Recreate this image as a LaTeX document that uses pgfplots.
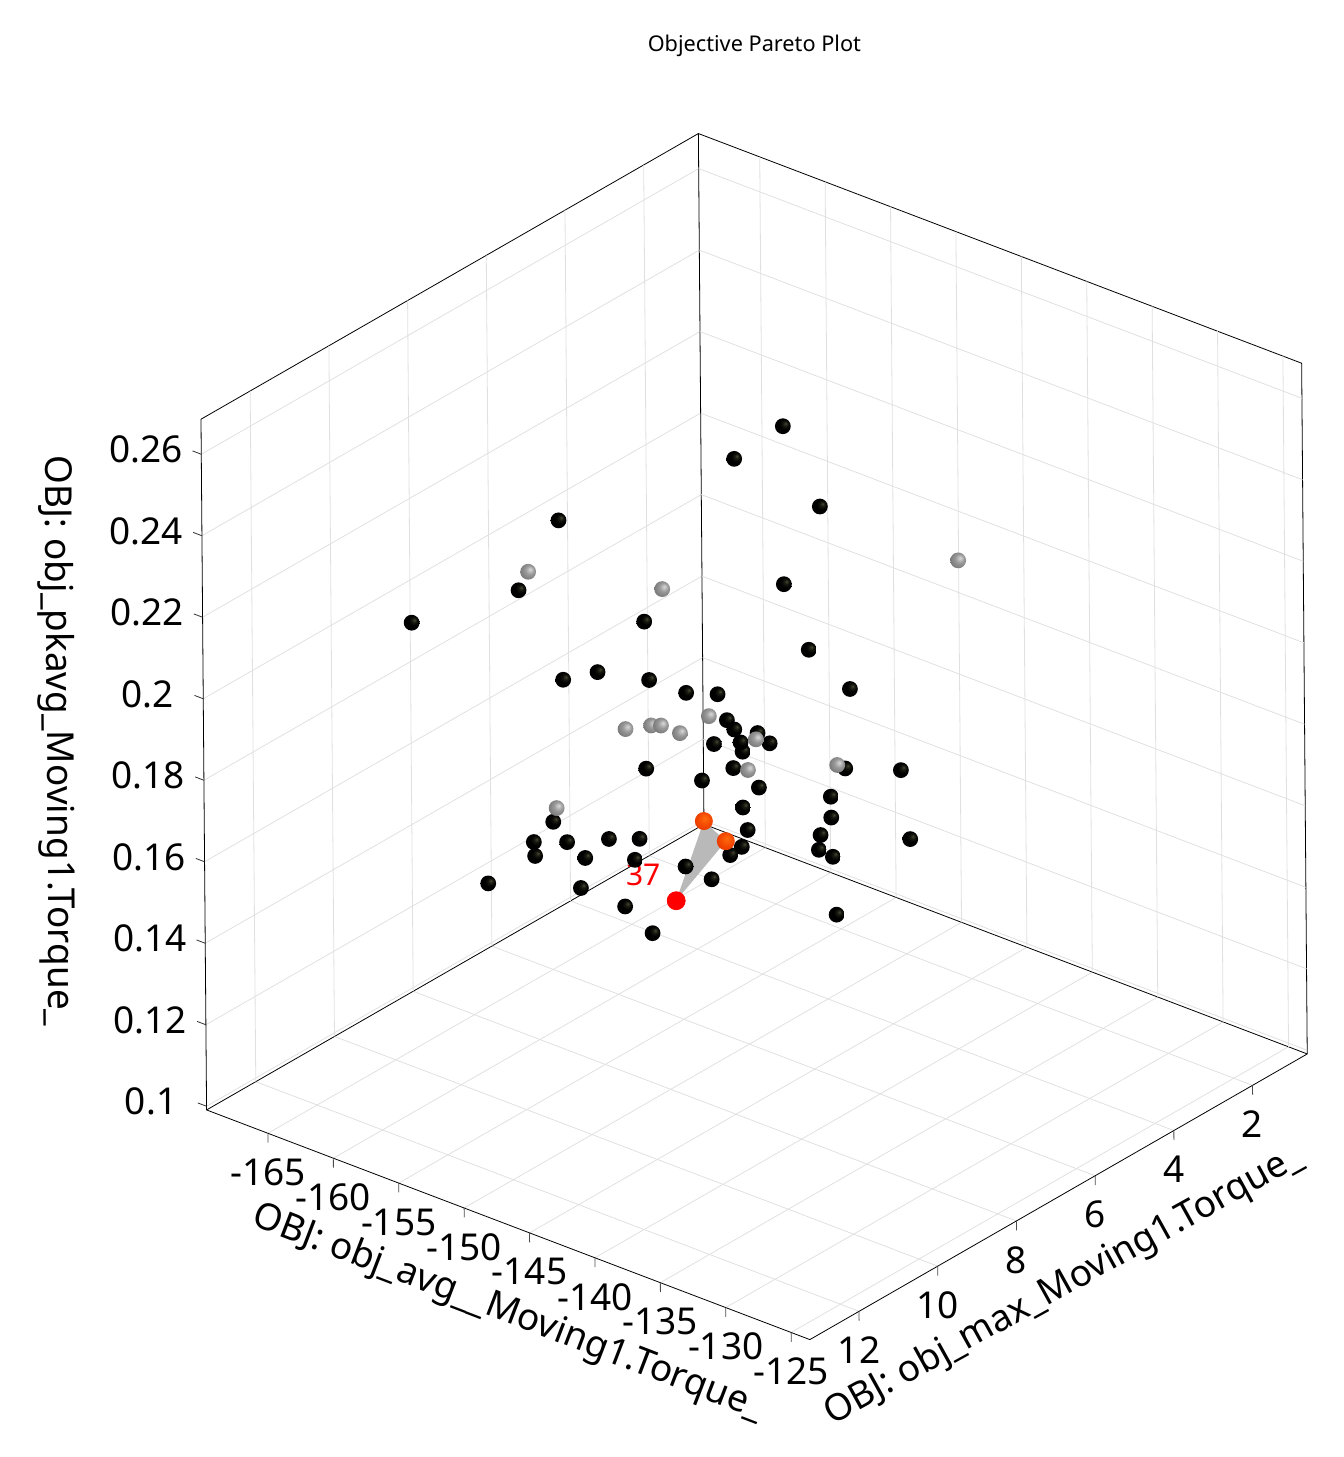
\documentclass[border=0pt]{standalone}
\usepackage{pgfplots}
\pgfplotsset{compat=1.18}
\usepackage{pgfplotstable}
\usepackage{fontspec}
\setmainfont{Noto Sans}
\pgfdeclareradialshading{darkball}{\pgfpoint{9bp}{9bp}}{rgb(0bp)=(.28,.28,.2);rgb(7bp)=(.1,.1,.07);rgb(16bp)=(0,0,0);rgb(50bp)=(0,0,0)}
\pgfdeclareradialshading{grayball}{\pgfpoint{7bp}{8bp}}{rgb(0bp)=(.85,.85,.85);rgb(14bp)=(.6,.6,.6);rgb(32bp)=(.45,.45,.45);rgb(50bp)=(.3,.3,.3)}
\pgfdeclareradialshading{orangeball}{\pgfpoint{3bp}{8bp}}{rgb(0bp)=(1,.42,.05);rgb(20bp)=(.95,.27,0);rgb(38bp)=(.85,.2,0);rgb(50bp)=(.6,.12,0)}
\pgfdeclareplotmark{dball}{\pgfpathcircle{\pgfpointorigin}{\pgfplotmarksize}\pgfshadepath{darkball}{0}\pgfusepath{discard}}
\pgfdeclareplotmark{gball}{\pgfpathcircle{\pgfpointorigin}{\pgfplotmarksize}\pgfshadepath{grayball}{0}\pgfusepath{discard}}
\pgfdeclareplotmark{oball}{\pgfpathcircle{\pgfpointorigin}{\pgfplotmarksize}\pgfshadepath{orangeball}{0}\pgfusepath{discard}}
\pgfplotstableread{
x y z
-155.39 3.25 .2289
-157.52 3.25 .1510
-158.68 3.25 .1450
-158.83 3.25 .1471
-156.60 3.25 .1496
-157.45 3.25 .1377
-158.69 3.25 .1313
-158.34 3.25 .1262
-158.80 3.25 .1215
-152.60 3.25 .2126
-155.41 3.25 .1901
-153.54 3.25 .1763
-150.41 3.25 .1705
-150.82 3.25 .1505
-146.55 3.25 .1553
-151.94 3.25 .1422
-151.92 3.25 .1371
-152.75 3.25 .1318
-152.89 3.25 .1280
-151.82 3.25 .1276
-145.88 3.25 .1392
-151.57 3.25 .1137
-153.08 5.25 .2348
-166.59 5.25 .2032
-160.08 5.25 .1863
-166.33 5.25 .1644
-163.69 5.25 .1695
-159.74 5.25 .1724
-156.91 5.25 .1727
-154.50 5.25 .1753
-153.80 5.25 .1698
-153.24 5.25 .1682
-154.81 5.25 .1627
-153.34 5.25 .1586
-160.02 5.25 .1503
-155.75 5.25 .1526
-153.63 5.25 .1369
-157.06 5.25 .1299
-155.07 5.25 .1292
-167.18 5.25 .1285
-168.68 5.25 .1217
-168.59 5.25 .1184
-166.13 5.25 .1248
-164.75 5.25 .1226
-162.92 5.25 .1295
-160.57 5.25 .1324
-160.94 5.25 .1268
-165.10 5.25 .1148
-161.72 5.25 .1144
-159.63 5.25 .1104
-160.60 8.25 .2100
-168.82 8.25 .1920
-163.11 8.25 .1350
}\blackpts
\pgfplotstableread{
x y z
-168.95 5.25 .1877
-158.68 5.25 .1960
-161.58 5.25 .1581
-159.61 5.25 .1614
-158.86 5.25 .1623
-157.41 5.25 .1622
-155.18 5.25 .1691
-166.91 5.25 .1322
-142.03 3.25 .2123
-157.65 3.25 .1493
-158.28 3.25 .1410
-151.43 3.25 .1506
}\graypts
\pgfplotstableread{
x y z
-155.63 5.25 .1428
-153.96 5.25 .1399
}\orangepts
\pgfplotstableread{
x y z
-157.80 5.25 .1206
}\redpts
\begin{document}
\begin{tikzpicture}
\useasboundingbox (0,0) rectangle (672pt,728.5pt);
\begin{axis}[
  at={(100.5pt,58.7pt)}, anchor=south west,
  x={(6.54pt,-2.49pt)}, y={(19.675pt,11.3pt)}, y dir=reverse, z={(-16.5pt,2037.5pt)},
  xmin=-169.69, xmax=-123.57, ymin=0.61, ymax=13.25, zmin=0.0991, zmax=0.2686,
  xtick={-165,-160,...,-125}, ytick={2,4,...,12},
  ztick={0.1,0.12,0.14,0.16,0.18,0.2,0.22,0.24,0.26},
  clip=false, grid=major,
  grid style={gray!24, line width=0.4pt},
  axis line style={black, line width=0.4pt},
  tick pos=left, major tick length=0pt,
  /pgf/number format/assume math mode=true,
  /pgf/number format/fixed,
  /pgf/number format/precision=2,
  tick label style={font=\fontsize{18.5}{20}\selectfont, anchor=center},
  xticklabel style={xshift=0pt, yshift=-19.5pt},
  yticklabel style={xshift=0pt, yshift=-19.5pt},
  zticklabel style={xshift=-27.75pt, yshift=2.4pt},
  label style={font=\fontsize{18.5}{20}\selectfont},
  xlabel={OBJ: obj\_avg\_\_Moving1.Torque\_},
  ylabel={OBJ: obj\_max\_Moving1.Torque\_},
  zlabel={OBJ: obj\_pkavg\_Moving1.Torque\_},
  xlabel style={at={(rel axis cs:0.5,0,0)}, anchor=center, rotate=-21, xshift=15.86pt, yshift=-41.31pt},
  ylabel style={at={(rel axis cs:1,0.5,0)}, anchor=center, rotate=29, xshift=-19.23pt, yshift=-40.38pt},
  zlabel style={at={(rel axis cs:0,0,0.5)}, anchor=center, rotate=-179.6, xshift=-12.28pt, yshift=-73.4pt},
  title={Objective Pareto Plot},
  title style={at={(rel axis cs:0,1,1)}, anchor=center, xshift=28pt, yshift=37.8pt, font=\fontsize{10.85}{12}\selectfont},
]
\pgfplotsinvokeforeach{-165,-160,-155,-150,-145,-140,-135,-130,-125}{
  \draw[black!70, line width=0.4pt] (axis cs:#1,13.25,0.0991) -- (axis cs:#1,13.25,0.0968);}
\pgfplotsinvokeforeach{2,4,6,8,10,12}{
  \draw[black!70, line width=0.4pt] (axis cs:-123.57,#1,0.0991) -- (axis cs:-123.57,#1,0.0968);}
\pgfplotsinvokeforeach{0.1,0.12,0.14,0.16,0.18,0.2,0.22,0.24,0.26}{
  \draw[black!80, line width=0.4pt] (axis cs:-169.69,13.25,#1) -- (axis cs:-170.36,13.25,#1);}
\addplot3[fill=gray!55, draw=none, forget plot] coordinates {(-155.63,5.25,.1428) (-153.96,5.25,.1399) (-157.80,5.25,.1206) (-155.63,5.25,.1428)};
\addplot3[only marks, mark=dball, mark size=3.95pt] table[x=x,y=y,z=z] {\blackpts};
\addplot3[only marks, mark=gball, mark size=3.95pt] table[x=x,y=y,z=z] {\graypts};
\addplot3[only marks, mark=oball, mark size=4.5pt] table[x=x,y=y,z=z] {\orangepts};
\addplot3[only marks, mark=*, mark size=4.5pt, mark options={fill=red, draw=red}] table[x=x,y=y,z=z] {\redpts};
\node[text=red, font=\fontsize{15}{18}\selectfont, xshift=-16.5pt, yshift=12.85pt] at (axis cs:-157.80,5.25,.1206) {37};
\end{axis}
\end{tikzpicture}
\end{document}
